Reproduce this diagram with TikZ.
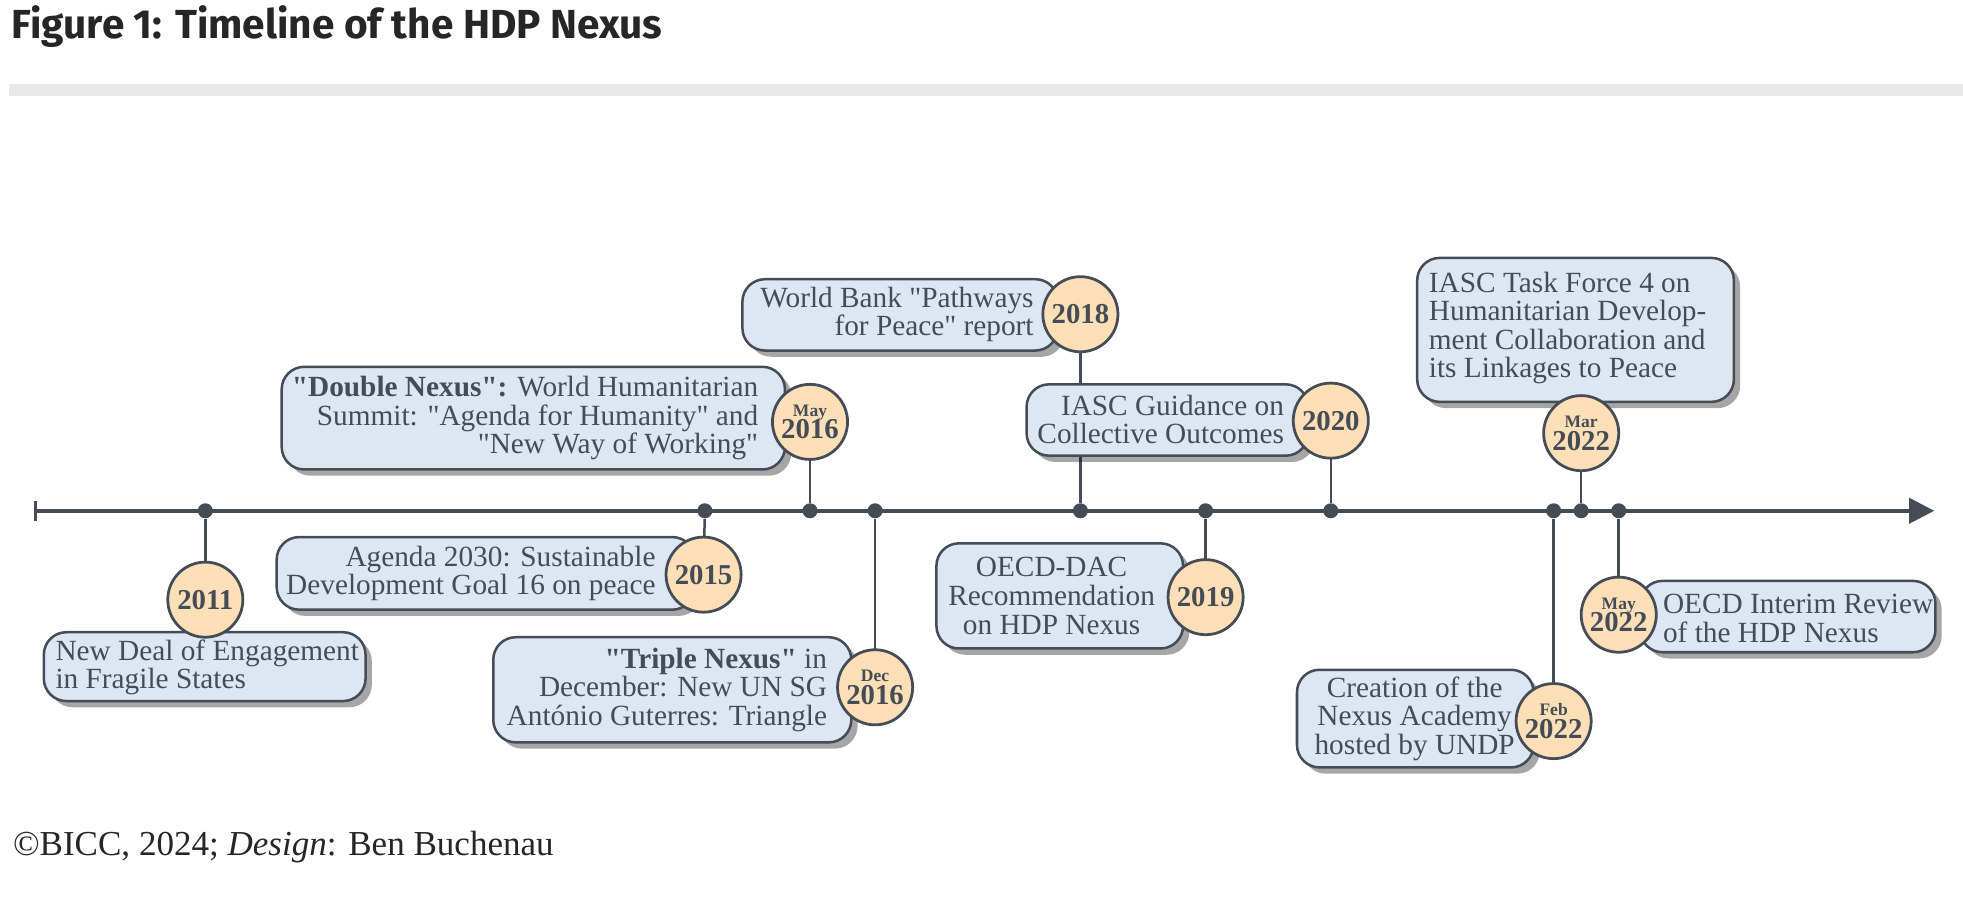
\documentclass[tikz,border=0pt]{standalone}
\usepackage{fontspec}
\setmainfont{Liberation Serif}[Ligatures=TeXOff]
\newfontfamily\titlefont{Fira Sans}
\usetikzlibrary{shadows,arrows.meta}
\definecolor{ink}{HTML}{454C56}
\definecolor{boxfill}{HTML}{DDE6F3}
\definecolor{yearfill}{HTML}{FCDFB6}
\definecolor{barcol}{HTML}{E8E8E8}
\tikzset{
  evbox/.style={draw=ink, line width=1pt, fill=boxfill, rounded corners=9pt, inner sep=0pt,
    drop shadow={shadow xshift=2.5pt, shadow yshift=-2.5pt, fill=black, opacity=0.35}},
  evtext/.style={text=ink, font=\fontsize{11.7}{11.4}\selectfont, inner sep=0pt},
  yr/.style={circle, draw=ink, line width=1.1pt, fill=yearfill, minimum size=30pt, inner sep=0pt,
    text=ink, font=\bfseries\fontsize{11.5}{10}\selectfont, align=center},
  dot/.style={circle, fill=ink, minimum size=6pt, inner sep=0pt},
  stem/.style={draw=ink, line width=1pt},
}
\newcommand{\mo}[1]{{\fontsize{7}{7}\selectfont #1}\\[-1pt]}
\begin{document}
\begin{tikzpicture}[x=0.5pt,y=-0.5pt]
\useasboundingbox (0,0) rectangle (1568,716);
\node[anchor=west, inner sep=0pt, text=black!85, font=\titlefont\bfseries\fontsize{16.2}{16}\selectfont] (title) at (9,21) {Figure 1: Timeline of the HDP Nexus};
\fill[barcol] (7,67) rectangle (1568,77);
\node[anchor=west, inner sep=0pt, text=black!85, font=\fontsize{14}{14}\selectfont] (foot) at (10,677) {©BICC, 2024; \textit{Design}: Ben Buchenau};

% axis
\coordinate (a0) at (28,408);
\coordinate (a1) at (1545,408);
\draw[ink, line width=1.5pt, -{Triangle[length=10pt,width=10pt]}] (a0) -- (a1);
\draw[ink, line width=1.2pt] (28,400) -- (28,416);

% dots
\foreach \n/\x in {d11/164,d15/563,d16a/647,d16b/699,d18/863,d19/963,d20/1063,d22b/1241,d22a/1263,d22c/1293}
  \node[dot] (\n) at (\x,408) {};

% coordinates of year circles
\coordinate (c11) at (164,479);
\coordinate (c15) at (562,459);
\coordinate (c16a) at (647,337);
\coordinate (c16b) at (699,549);
\coordinate (c18) at (863,251);
\coordinate (c19) at (963,477);
\coordinate (c20) at (1063,336);
\coordinate (c22a) at (1263,346);
\coordinate (c22b) at (1241,576);
\coordinate (c22c) at (1293,491);

% stems
\draw[stem] (d11) -- (c11);
\draw[stem] (d15) -- (c15);
\draw[stem] (d16a) -- (c16a);
\draw[stem] (d16b) -- (c16b);
\draw[stem] (d18) -- (c18);
\draw[stem] (d19) -- (c19);
\draw[stem] (d20) -- (c20);
\draw[stem] (d22a) -- (c22a);
\draw[stem] (d22b) -- (c22b);
\draw[stem] (d22c) -- (c22c);

% boxes
\node[evbox, minimum width=128.5pt, minimum height=27.5pt] (b11) at (163.5,532.5) {};
\node[evbox, minimum width=167pt, minimum height=29pt] (b15) at (388,458) {};
\node[evbox, minimum width=201pt, minimum height=41pt] (b16a) at (426,334) {};
\node[evbox, minimum width=143pt, minimum height=42pt] (b16b) at (537,551) {};
\node[evbox, minimum width=126pt, minimum height=28.5pt] (b18) at (719,251.5) {};
\node[evbox, minimum width=98.5pt, minimum height=42pt] (b19) at (846.5,476) {};
\node[evbox, minimum width=112.5pt, minimum height=28.5pt] (b20) at (932.5,335.5) {};
\node[evbox, minimum width=126.5pt, minimum height=57.5pt] (b22a) at (1258.5,263.5) {};
\node[evbox, minimum width=94.5pt, minimum height=39pt] (b22b) at (1130.5,574) {};
\node[evbox, minimum width=118pt, minimum height=28.5pt] (b22c) at (1428,492.5) {};

% texts
\node[evtext, anchor=west, align=left] (t11) at (44,533) {New Deal of Engagement\\in Fragile States};
\node[evtext, anchor=east, align=right] (t15) at (524,458) {Agenda 2030: Sustainable\\Development Goal 16 on peace};
\node[evtext, anchor=east, align=right] (t16a) at (606,334) {\textbf{"Double Nexus":} World Humanitarian\\Summit: "Agenda for Humanity" and\\"New Way of Working"};
\node[evtext, anchor=east, align=right] (t16b) at (661,551) {\textbf{"Triple Nexus"} in\\December: New UN SG\\António Guterres: Triangle};
\node[evtext, anchor=east, align=right] (t18) at (826,251) {World Bank "Pathways\\for Peace" report};
\node[evtext, align=center] (t19) at (840,476) {OECD-DAC\\Recommendation\\on HDP Nexus};
\node[evtext, anchor=east, align=right] (t20) at (1026,335) {IASC Guidance on\\Collective Outcomes};
\node[evtext, anchor=west, align=left] (t22a) at (1141,262) {IASC Task Force 4 on\\Humanitarian Develop-\\ment Collaboration and\\its Linkages to Peace};
\node[evtext, align=center] (t22b) at (1130,574) {Creation of the\\Nexus Academy\\hosted by UNDP};
\node[evtext, anchor=west, align=left] (t22c) at (1328,494) {OECD Interim Review\\of the HDP Nexus};

% year circles
\node[yr] (y11) at (c11) {2011};
\node[yr] (y15) at (c15) {2015};
\node[yr] (y16a) at (c16a) {\mo{May}2016};
\node[yr] (y16b) at (c16b) {\mo{Dec}2016};
\node[yr] (y18) at (c18) {2018};
\node[yr] (y19) at (c19) {2019};
\node[yr] (y20) at (c20) {2020};
\node[yr] (y22a) at (c22a) {\mo{Mar}2022};
\node[yr] (y22b) at (c22b) {\mo{Feb}2022};
\node[yr] (y22c) at (c22c) {\mo{May}2022};
\end{tikzpicture}
\end{document}
